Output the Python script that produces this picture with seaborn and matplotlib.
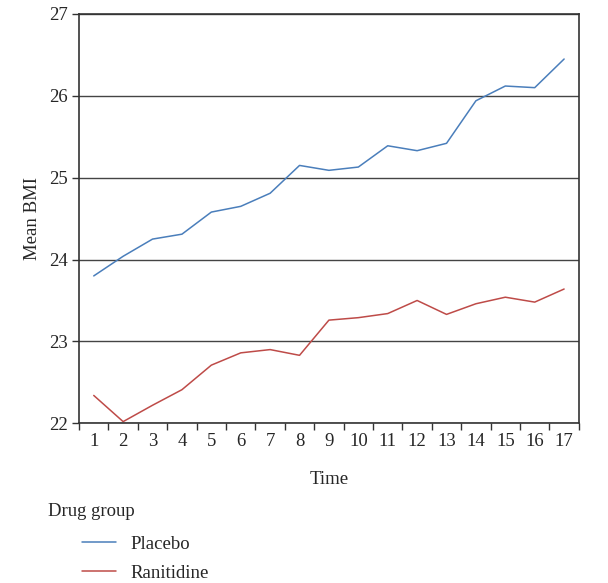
import matplotlib
matplotlib.use("Agg")
import matplotlib.pyplot as plt
import seaborn as sns
import pandas as pd
import numpy as np

# values
time = list(range(1, 18))
placebo = [23.80, 24.04, 24.25, 24.31, 24.58, 24.65, 24.81, 25.15, 25.09,
           25.13, 25.39, 25.33, 25.42, 25.94, 26.12, 26.10, 26.45]
ranitidine = [22.34, 22.02, 22.22, 22.41, 22.71, 22.86, 22.90, 22.83, 23.26,
              23.29, 23.34, 23.50, 23.33, 23.46, 23.54, 23.48, 23.64]
groups = ["Placebo", "Ranitidine"]
colors = {"Placebo": "#4a7ebb", "Ranitidine": "#be4b48"}

df = pd.DataFrame({
    "Time": time * 2,
    "Mean BMI": placebo + ranitidine,
    "Drug group": [groups[0]] * len(time) + [groups[1]] * len(time),
})

sns.set_style("white")
plt.rcParams["font.family"] = ["Liberation Serif", "DejaVu Serif"]
fs = 13.5

fig = plt.figure(figsize=(6.08, 5.83), dpi=100)
ax = fig.add_axes([0.130, 0.274, 0.822, 0.702])

sns.lineplot(data=df, x="Time", y="Mean BMI", hue="Drug group",
             palette=colors, linewidth=1.1, ax=ax, legend=False)

ax.set_xlim(0.5, 17.5)
ax.set_ylim(22, 27)
ax.set_xticks(time)
ax.set_xticks(np.arange(0.5, 18, 1), minor=True)
ax.tick_params(axis="x", which="major", bottom=True, length=0, pad=7, labelsize=fs)
ax.tick_params(axis="x", which="minor", bottom=True, length=5, width=1,
               color="#333333", direction="out")
ax.set_yticks([22, 23, 24, 25, 26, 27])
ax.tick_params(axis="y", left=True, length=5, width=1, color="#333333",
               direction="out", labelsize=fs, pad=3)
ax.grid(axis="y", color="#444444", linewidth=1)
for s in ax.spines.values():
    s.set_color("#333333")
    s.set_linewidth(1.2)

ax.set_xlabel("Time", fontsize=fs, labelpad=15)
ax.set_ylabel("Mean BMI", fontsize=fs, labelpad=6)

fig.text(48 / 608, 1 - 512 / 583, "Drug group", fontsize=fs, va="center", ha="left")
handles = [plt.Line2D([], [], color=colors[g], linewidth=1.1) for g in groups]
fig.legend(handles, groups, loc="upper left", bbox_to_anchor=(74 / 608, 1 - 528 / 583),
           frameon=False, fontsize=fs, handlelength=1.85, handletextpad=0.75,
           labelspacing=0.65, borderaxespad=0)

fig.savefig("out.png", dpi=100)
